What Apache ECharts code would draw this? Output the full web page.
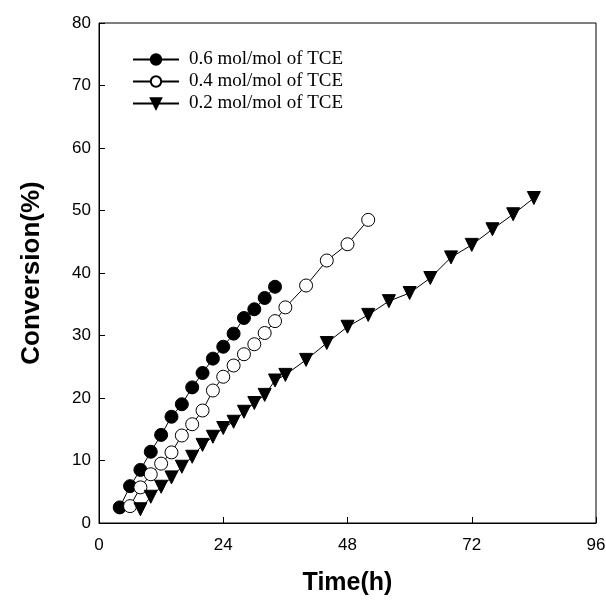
<!DOCTYPE html>
<html>
<head>
<meta charset="utf-8">
<script src="https://cdn.jsdelivr.net/npm/echarts@6/dist/echarts.min.js"></script>
<style>
	html, body { margin: 0; padding: 0; background: #fff; }
	#main { width: 606px; height: 606px; }
</style>
</head>
<body>
<div id="main"></div>
<script>
// 数据：时间(h) 与 转化率(%)
var time06 = [4, 6, 8, 10, 12, 14, 16, 18, 20, 22, 24, 26, 28, 30, 32, 34];
var conv06 = [2.5, 5.9, 8.5, 11.4, 14.1, 17, 19, 21.7, 24, 26.3, 28.2, 30.3, 32.8, 34.2, 36, 37.8];

var time04 = [6, 8, 10, 12, 14, 16, 18, 20, 22, 24, 26, 28, 30, 32, 34, 36, 40, 44, 48, 52];
var conv04 = [2.7, 5.7, 7.8, 9.5, 11.3, 14, 15.8, 18, 21.2, 23.4, 25.2, 27, 28.6, 30.4, 32.3, 34.5, 38, 42, 44.6, 48.5];

var time02 = [8, 10, 12, 14, 16, 18, 20, 22, 24, 26, 28, 30, 32, 34, 36, 40, 44, 48, 52, 56, 60, 64, 68, 72, 76, 80, 84];
var conv02 = [2.2, 4.2, 5.8, 7.3, 9, 10.6, 12.5, 13.8, 15.2, 16.2, 17.8, 19.2, 20.5, 22.8, 23.7, 26.1, 28.8, 31.4, 33.3, 35.5, 36.8, 39.2, 42.5, 44.5, 47, 49.4, 52];

var seriesNames = ['0.6 mol/mol of TCE', '0.4 mol/mol of TCE', '0.2 mol/mol of TCE'];

function pairs(xs, ys) {
	return xs.map(function(x, i) { return [x, ys[i]]; });
}

var myChart = echarts.init(document.getElementById('main'));
var option = {
	animation: false,
	backgroundColor: '#fff',
	grid: {
		left: 99,
		right: 10,
		top: 23,
		bottom: 83,
		outerBoundsMode: 'none',
		containLabel: false,
		show: true,
		borderColor: '#000',
		borderWidth: 1
	},
	legend: {
		left: 127,
		top: 45,
		orient: 'vertical',
		itemWidth: 46,
		itemHeight: 13,
		itemGap: 3,
		data: seriesNames,
		textStyle: {
			fontFamily: 'Liberation Serif',
			fontSize: 19,
			color: '#000',
			padding: [0, 0, 0, 5]
		}
	},
	xAxis: {
		type: 'value',
		min: 0,
		max: 96,
		interval: 24,
		name: 'Time(h)',
		nameLocation: 'middle',
		nameGap: 48,
		nameTextStyle: { fontFamily: 'Liberation Sans', fontWeight: 'bold', fontSize: 25, color: '#000' },
		axisLine: { lineStyle: { color: '#000', width: 1 } },
		axisTick: { inside: true, length: 6, lineStyle: { color: '#000' } },
		axisLabel: { fontFamily: 'Liberation Sans', fontSize: 17, color: '#000', margin: 14 },
		splitLine: { show: false }
	},
	yAxis: {
		type: 'value',
		min: 0,
		max: 80,
		interval: 10,
		name: 'Conversion(%)',
		nameLocation: 'middle',
		nameGap: 54,
		nameTextStyle: { fontFamily: 'Liberation Sans', fontWeight: 'bold', fontSize: 26, color: '#000' },
		axisLine: { lineStyle: { color: '#000', width: 1 } },
		axisTick: { inside: true, length: 6, lineStyle: { color: '#000' } },
		axisLabel: { fontFamily: 'Liberation Sans', fontSize: 17, color: '#000', margin: 8 },
		splitLine: { show: false }
	},
	series: [{
		name: seriesNames[0],
		type: 'line',
		data: pairs(time06, conv06),
		symbol: 'circle',
		symbolSize: 13,
		lineStyle: { color: '#000', width: 1 },
		itemStyle: { color: '#000', borderColor: '#000', borderWidth: 1 }
	}, {
		name: seriesNames[1],
		type: 'line',
		data: pairs(time04, conv04),
		symbol: 'circle',
		symbolSize: 13,
		lineStyle: { color: '#000', width: 1 },
		itemStyle: { color: '#fff', borderColor: '#000', borderWidth: 1 }
	}, {
		name: seriesNames[2],
		type: 'line',
		data: pairs(time02, conv02),
		symbol: 'triangle',
		symbolRotate: 180,
		symbolSize: 13,
		lineStyle: { color: '#000', width: 1 },
		itemStyle: { color: '#000', borderColor: '#000', borderWidth: 1 }
	}]
};
myChart.setOption(option);
</script>
</body>
</html>
